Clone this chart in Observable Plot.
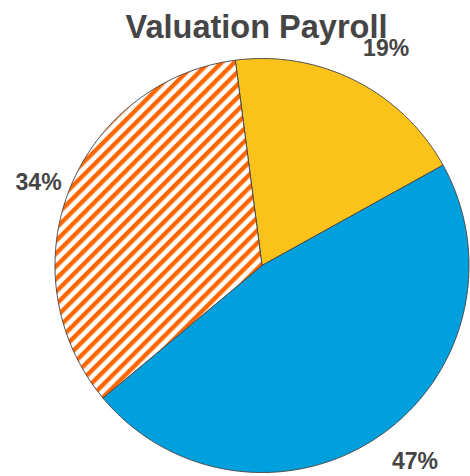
<!DOCTYPE html>
<html>
<head>
<meta charset="utf-8">
<script src="https://cdn.jsdelivr.net/npm/d3@7"></script>
<script src="https://cdn.jsdelivr.net/npm/@observablehq/plot@0.6"></script>
<style>
  html, body { margin: 0; padding: 0; background: #fff; }
  #chart svg { display: block; }
</style>
</head>
<body>
<div id="chart"></div>
<script>
// ---- data ----
const chartTitle = "Valuation Payroll";
const categories = ["Segment A", "Segment B", "Segment C"];
const values = [19, 47, 34];
const labels = ["19%", "47%", "34%"];
const fills = ["#FBC31A", "#00A0DE", "url(#hatch)"];
const startAngleDeg = -7.4; // clockwise from 12 o'clock

// ---- build slice polygons in unit-circle data space ----
const total = d3.sum(values);
const slices = [];
const labelRows = [];
let a = startAngleDeg * Math.PI / 180;
categories.forEach((c, i) => {
  const a0 = a, a1 = a + values[i] / total * 2 * Math.PI;
  const pts = [{slice: c, x: 0, y: 0}];
  const n = Math.max(2, Math.ceil((a1 - a0) / (Math.PI / 360)));
  for (let k = 0; k <= n; k++) {
    const t = a0 + (a1 - a0) * k / n;
    pts.push({slice: c, x: Math.sin(t), y: Math.cos(t)});
  }
  pts.push({slice: c, x: 0, y: 0});
  slices.push(pts);
  const m = (a0 + a1) / 2;
  labelRows.push({slice: c, label: labels[i], x: 1.18 * Math.sin(m), y: 1.18 * Math.cos(m)});
  a = a1;
});

// label nudges (layout only)
const nudges = {"Segment A": [14, 1], "Segment B": [15, -5], "Segment C": [4, 6]};

const marks = slices.map((pts, i) =>
  Plot.line(pts, {x: "x", y: "y", fill: fills[i], stroke: "#4a4a4a", strokeWidth: 1, strokeLinejoin: "round"})
);
labelRows.forEach(r => {
  marks.push(Plot.text([r], {x: "x", y: "y", text: "label", dx: nudges[r.slice][0], dy: nudges[r.slice][1],
    fontSize: 23, fontWeight: "bold", fill: "#454545"}));
});
marks.push(Plot.text([chartTitle], {frameAnchor: "top", text: d => d, lineAnchor: "bottom", dy: -21, dx: -5.5, fontSize: 32.5, fontWeight: "bold", fill: "#454545"}));

const svg = Plot.plot({
  width: 470,
  height: 476,
  marginLeft: 54.5,
  marginRight: 1.5,
  marginTop: 58,
  marginBottom: 4,
  x: {domain: [-1, 1], axis: null},
  y: {domain: [-1, 1], axis: null},
  style: {fontFamily: "'Liberation Sans', Arial, sans-serif", overflow: "visible", background: "#fff"},
  marks
});

// hatch pattern
const defs = d3.select(svg).insert("defs", ":first-child");
const pat = defs.append("pattern")
  .attr("id", "hatch")
  .attr("patternUnits", "userSpaceOnUse")
  .attr("width", 9).attr("height", 9)
  .attr("patternTransform", "rotate(45)");
pat.append("rect").attr("width", 9).attr("height", 9).attr("fill", "#ffffff");
pat.append("rect").attr("width", 4.4).attr("height", 9).attr("fill", "#FF6600");

document.getElementById("chart").appendChild(svg);
</script>
</body>
</html>
